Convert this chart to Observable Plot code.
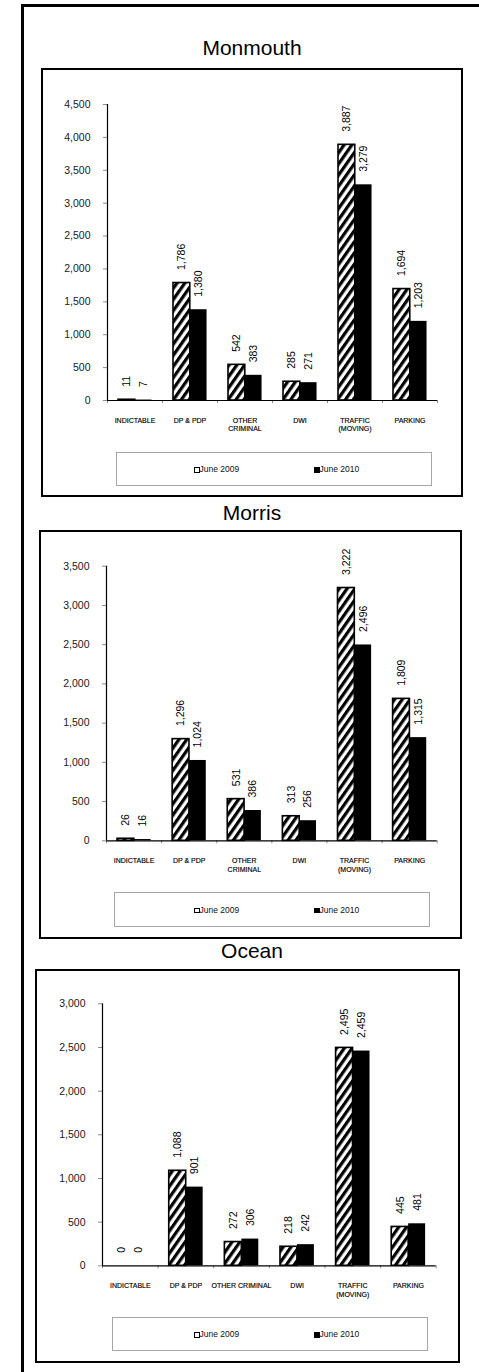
<!DOCTYPE html>
<html>
<head>
<meta charset="utf-8">
<script src="https://cdn.jsdelivr.net/npm/d3@7"></script>
<script src="https://cdn.jsdelivr.net/npm/@observablehq/plot@0.6"></script>
<style>
  body { margin: 0; background: #fff; }
  #page { position: relative; width: 479px; height: 1372px; overflow: hidden; font-family: "Liberation Sans", Arial, sans-serif; background: #fff; }
  .line { position: absolute; background: #000; }
  .box { position: absolute; box-sizing: border-box; border: 2px solid #000; }
  .title { position: absolute; left: 132px; width: 240px; text-align: center; font-size: 21px; line-height: 21px; color: #000; }
  .legend { position: absolute; box-sizing: border-box; border: 1px solid #a6a6a6; }
  .legend .item { position: absolute; font-size: 8.5px; line-height: 10px; color: #111; white-space: nowrap; }
  .legend .sw { display: inline-block; width: 5.5px; height: 5.5px; box-sizing: border-box; vertical-align: -0.5px; }
  .plotwrap { position: absolute; }
  .plotwrap svg { overflow: visible; }
</style>
</head>
<body>
<div id="page"></div>
<script>
// ---------- DATA ----------
const categories = ["INDICTABLE", "DP & PDP", "OTHER CRIMINAL", "DWI", "TRAFFIC (MOVING)", "PARKING"];
const labelsMonmouth = ["INDICTABLE", "DP & PDP", "OTHER\nCRIMINAL", "DWI", "TRAFFIC\n(MOVING)", "PARKING"];
const labelsMorris = ["INDICTABLE", "DP & PDP", "OTHER\nCRIMINAL", "DWI", "TRAFFIC\n(MOVING)", "PARKING"];
const labelsOcean = ["INDICTABLE", "DP & PDP", "OTHER CRIMINAL", "DWI", "TRAFFIC\n(MOVING)", "PARKING"];
const seriesNames = ["June 2009", "June 2010"];

const monmouth2009 = [11, 1786, 542, 285, 3887, 1694];
const monmouth2010 = [7, 1380, 383, 271, 3279, 1203];
const morris2009 = [26, 1296, 531, 313, 3222, 1809];
const morris2010 = [16, 1024, 386, 256, 2496, 1315];
const ocean2009 = [0, 1088, 272, 218, 2495, 445];
const ocean2010 = [0, 901, 306, 242, 2459, 481];

const monmouthTicks = [0, 500, 1000, 1500, 2000, 2500, 3000, 3500, 4000, 4500];
const morrisTicks = [0, 500, 1000, 1500, 2000, 2500, 3000, 3500];
const oceanTicks = [0, 500, 1000, 1500, 2000, 2500, 3000];

// ---------- LAYOUT ----------
const panels = [
  { key: "monmouth", title: "Monmouth", v1: monmouth2009, v2: monmouth2010, ticks: monmouthTicks, labels: labelsMonmouth,
    titleTop: 37, box: [41, 68, 422, 429],
    svg: { left: 43, top: 70, width: 416, height: 375, mL: 64, mR: 22, mT: 34, mB: 45 },
    legend: [116, 452, 316, 34] },
  { key: "morris", title: "Morris", v1: morris2009, v2: morris2010, ticks: morrisTicks, labels: labelsMorris,
    titleTop: 502, box: [39, 530, 423, 409],
    svg: { left: 41, top: 532, width: 419, height: 353, mL: 65, mR: 23.3, mT: 33.7, mB: 44.7 },
    legend: [114, 892, 316, 35] },
  { key: "ocean", title: "Ocean", v1: ocean2009, v2: ocean2010, ticks: oceanTicks, labels: labelsOcean,
    titleTop: 939.5, box: [35, 969, 425, 394],
    svg: { left: 37, top: 971, width: 421, height: 334, mL: 65, mR: 22.3, mT: 32.3, mB: 39.7 },
    legend: [112, 1317, 316, 34] }
];

const page = document.getElementById("page");
function addDiv(cls, style, html) {
  const d = document.createElement("div");
  d.className = cls;
  Object.assign(d.style, style);
  if (html != null) d.innerHTML = html;
  page.appendChild(d);
  return d;
}

// outer frame (top + left)
addDiv("line", { left: "21px", top: "4px", width: "460px", height: "3px" });
addDiv("line", { left: "21px", top: "4px", width: "3px", height: "1370px" });

const fmt = d3.format(",");
const B1 = [0.2, 0.505];   // fraction of category band for June 2009 bar
const B2 = [0.505, 0.81];  // fraction of category band for June 2010 bar

panels.forEach((p) => {
  addDiv("title", { top: p.titleTop + "px" }, p.title);
  addDiv("box", { left: p.box[0] + "px", top: p.box[1] + "px", width: p.box[2] + "px", height: p.box[3] + "px" });

  const rows1 = categories.map((c, i) => ({ i, cat: c, series: seriesNames[0], v: p.v1[i] }));
  const rows2 = categories.map((c, i) => ({ i, cat: c, series: seriesNames[1], v: p.v2[i] }));
  const hatchId = "hatch-" + p.key;
  const s = p.svg;
  const n = categories.length;

  const chart = Plot.plot({
    width: s.width,
    height: s.height,
    marginLeft: s.mL,
    marginRight: s.mR,
    marginTop: s.mT,
    marginBottom: s.mB,
    x: { domain: [0, n], axis: null },
    y: { domain: [0, d3.max(p.ticks)], axis: null },
    style: { fontFamily: '"Liberation Sans", Arial, sans-serif', background: "transparent", overflow: "visible" },
    marks: [
      Plot.ruleY(p.ticks, { y: (d) => d, x1: () => 0, x2: () => 0, insetLeft: -4, stroke: "#8c8c8c", strokeWidth: 1 }),
      Plot.text(p.ticks, { y: (d) => d, frameAnchor: "left", dx: -17, textAnchor: "end", text: (d) => fmt(d), fontSize: 10.5, fill: "#1a1a1a" }),
      Plot.ruleX(d3.range(n + 1), { x: (d) => d, y1: () => 0, y2: () => 0, insetBottom: -3, stroke: "#8c8c8c", strokeWidth: 1 }),
      Plot.rect(rows1, { x1: (d) => d.i + B1[0], x2: (d) => d.i + B1[1], y1: () => 0, y2: "v", fill: `url(#${hatchId})`, stroke: "#000", strokeWidth: 1.6 }),
      Plot.rect(rows2, { x1: (d) => d.i + B2[0], x2: (d) => d.i + B2[1], y1: () => 0, y2: "v", fill: "#000" }),
      Plot.ruleX([0], { stroke: "#000", strokeWidth: 1.2 }),
      Plot.ruleY([0], { stroke: "#000", strokeWidth: 1.2 }),
      Plot.text(rows1, { x: (d) => d.i + (B1[0] + B1[1]) / 2, y: "v", text: (d) => fmt(d.v), rotate: -90, textAnchor: "start", dy: -13, fontSize: 10.5, fill: "#000" }),
      Plot.text(rows2, { x: (d) => d.i + (B2[0] + B2[1]) / 2, y: "v", text: (d) => fmt(d.v), rotate: -90, textAnchor: "start", dy: -13, fontSize: 10.5, fill: "#000" }),
      Plot.text(p.labels, { x: (d, i) => i + 0.5, y: () => 0, dy: 16.5, lineAnchor: "top", lineHeight: 1.2, text: (d) => d, fontSize: 7, fill: "#000", stroke: "#000", strokeWidth: 0.15 })
    ]
  });

  const defs = d3.select(chart).insert("defs", ":first-child");
  const pat = defs.append("pattern")
    .attr("id", hatchId)
    .attr("patternUnits", "userSpaceOnUse")
    .attr("width", 6.4)
    .attr("height", 6.4)
    .attr("patternTransform", "rotate(35)");
  pat.append("rect").attr("width", 6.4).attr("height", 6.4).attr("fill", "#fff");
  pat.append("rect").attr("width", 3.2).attr("height", 6.4).attr("fill", "#000");

  const wrap = addDiv("plotwrap", { left: s.left + "px", top: s.top + "px", width: s.width + "px", height: s.height + "px" });
  wrap.appendChild(chart);

  const lg = addDiv("legend", { left: p.legend[0] + "px", top: p.legend[1] + "px", width: p.legend[2] + "px", height: p.legend[3] + "px" });
  const itemTop = (p.legend[3] - 10) / 2 - 1;
  const it1 = document.createElement("div");
  it1.className = "item";
  it1.style.left = (193 - p.legend[0]) + "px";
  it1.style.top = itemTop + "px";
  it1.innerHTML = `<span class="sw" style="border:1.5px solid #000;background:#fff"></span>${seriesNames[0]}`;
  lg.appendChild(it1);
  const it2 = document.createElement("div");
  it2.className = "item";
  it2.style.left = (313 - p.legend[0]) + "px";
  it2.style.top = itemTop + "px";
  it2.innerHTML = `<span class="sw" style="background:#000"></span>${seriesNames[1]}`;
  lg.appendChild(it2);
});
</script>
</body>
</html>
